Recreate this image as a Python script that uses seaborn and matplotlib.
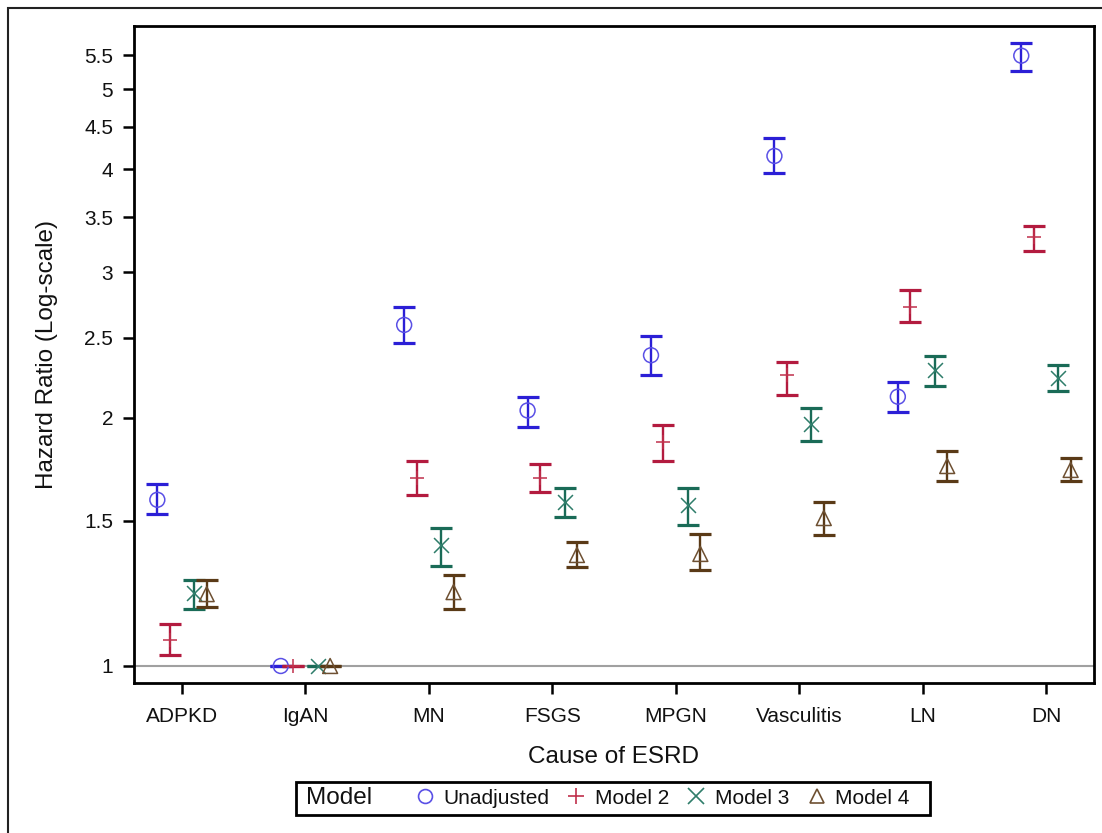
import matplotlib
matplotlib.use("Agg")
import numpy as np
import pandas as pd
import matplotlib.pyplot as plt
import seaborn as sns
from matplotlib.lines import Line2D
from matplotlib.patches import Rectangle
from matplotlib.ticker import FixedLocator, NullLocator, FormatStrFormatter

# hazard ratios with 95% CI
causes = ["ADPKD", "IgAN", "MN", "FSGS", "MPGN", "Vasculitis", "LN", "DN"]
models = ["Unadjusted", "Model 2", "Model 3", "Model 4"]

hr_unadj = [1.59, 1.00, 2.59, 2.04, 2.38, 4.15, 2.12, 5.49]
lo_unadj = [1.53, 1.00, 2.46, 1.95, 2.25, 3.96, 2.03, 5.26]
hi_unadj = [1.66, 1.00, 2.72, 2.12, 2.51, 4.36, 2.21, 5.69]

hr_m2 = [1.075, 1.00, 1.69, 1.69, 1.87, 2.25, 2.72, 3.31]
lo_m2 = [1.031, 1.00, 1.61, 1.625, 1.77, 2.13, 2.61, 3.18]
hi_m2 = [1.124, 1.00, 1.77, 1.757, 1.96, 2.335, 2.855, 3.41]

hr_m3 = [1.226, 1.00, 1.40, 1.58, 1.567, 1.964, 2.284, 2.233]
lo_m3 = [1.172, 1.00, 1.322, 1.515, 1.482, 1.874, 2.184, 2.154]
hi_m3 = [1.271, 1.00, 1.47, 1.643, 1.643, 2.054, 2.375, 2.316]

hr_m4 = [1.222, 1.00, 1.229, 1.363, 1.367, 1.511, 1.747, 1.728]
lo_m4 = [1.179, 1.00, 1.172, 1.318, 1.307, 1.441, 1.676, 1.676]
hi_m4 = [1.271, 1.00, 1.289, 1.413, 1.445, 1.58, 1.822, 1.787]

yticks = [1, 1.5, 2, 2.5, 3, 3.5, 4, 4.5, 5, 5.5]

series = {
    "Unadjusted": (hr_unadj, lo_unadj, hi_unadj),
    "Model 2": (hr_m2, lo_m2, hi_m2),
    "Model 3": (hr_m3, lo_m3, hi_m3),
    "Model 4": (hr_m4, lo_m4, hi_m4),
}
offsets = {"Unadjusted": -0.2, "Model 2": -0.1, "Model 3": 0.1, "Model 4": 0.2}
line_col = {"Unadjusted": "#2b1fd6", "Model 2": "#b31b3f", "Model 3": "#1a6b57", "Model 4": "#5a3a17"}
mark_col = {"Unadjusted": "#5a50e6", "Model 2": "#c0304c", "Model 3": "#2f7d6a", "Model 4": "#6e5032"}
mark = {"Unadjusted": "o", "Model 2": "+", "Model 3": "x", "Model 4": "^"}

rows = []
for m in models:
    hr, lo, hi = series[m]
    for i, c in enumerate(causes):
        rows.append({"cause": c, "model": m, "x": i + offsets[m], "hr": hr[i], "lo": lo[i], "hi": hi[i]})
df = pd.DataFrame(rows)

sns.set_theme(style="ticks")
plt.rcParams["font.family"] = ["Liberation Sans", "DejaVu Sans"]

fig = plt.figure(figsize=(11.02, 8.33), dpi=100)
ax = fig.add_axes([0.1216, 0.1801, 0.8711, 0.7887])

# outer frame of the figure
fig.patches.append(Rectangle((0.007, -0.05), 1.2, 1.04, transform=fig.transFigure,
                             fill=False, edgecolor="#222222", linewidth=1.5))

ax.axhline(1, color="#a0a0a0", linewidth=1.5, zorder=1)

for m in models:
    d = df[df.model == m]
    ax.errorbar(d.x, d.hr, yerr=[d.hr - d.lo, d.hi - d.hr], fmt="none",
                ecolor=line_col[m], elinewidth=1.7, capsize=8, capthick=2.3, zorder=2)
    if mark[m] in ["o", "^"]:
        sns.scatterplot(data=d, x="x", y="hr", marker=mark[m], s=115, facecolor="none",
                        edgecolor=mark_col[m], linewidth=1.1, ax=ax, zorder=3)
    else:
        sns.scatterplot(data=d, x="x", y="hr", marker=mark[m], s=115,
                        color=mark_col[m], linewidth=1.1, ax=ax, zorder=3)

ax.set_yscale("log")
ax.set_ylim(0.9537, 5.964)
ax.set_xlim(-0.389, 7.389)
ax.yaxis.set_major_locator(FixedLocator(yticks))
ax.yaxis.set_minor_locator(NullLocator())
ax.yaxis.set_major_formatter(FormatStrFormatter("%g"))
ax.set_xticks(range(len(causes)))
ax.set_xticklabels(causes)

for s in ax.spines.values():
    s.set_linewidth(2)
    s.set_color("black")
ax.tick_params(axis="both", length=8, width=1.8, color="black", labelsize=15, pad=7,
               labelcolor="#111111")
ax.tick_params(axis="x", pad=9)

ax.set_xlabel("Cause of ESRD", fontsize=17.5, labelpad=15, color="#111111")
ax.set_ylabel("Hazard Ratio (Log-scale)", fontsize=17.5, labelpad=19, color="#111111")

# legend along the bottom: boxed, with "Model" written inline on the left
fig.patches.append(Rectangle((296 / 1102, 1 - 815 / 833), 634 / 1102, 33 / 833,
                             transform=fig.transFigure, fill=False,
                             edgecolor="black", linewidth=2))
fig.text(306 / 1102, 1 - 798 / 833, "Model", fontsize=17.5, color="#111111",
         ha="left", va="center")
handles = []
for m in models:
    if mark[m] in ["o", "^"]:
        h = Line2D([], [], linestyle="none", marker=mark[m], markersize=10, markerfacecolor="none",
                   markeredgecolor=mark_col[m], markeredgewidth=1.2)
    else:
        h = Line2D([], [], linestyle="none", marker=mark[m], markersize=11,
                   color=mark_col[m], markeredgewidth=1.2)
    handles.append(h)
leg = fig.legend(handles, models, loc="center", bbox_to_anchor=(662 / 1102, 1 - 798 / 833), ncol=4,
                 frameon=False, fontsize=15, handlelength=1.0,
                 handletextpad=0.4, columnspacing=0.8, borderpad=0.0)
for t in leg.get_texts():
    t.set_color("#111111")

fig.savefig("out.png", dpi=100)
